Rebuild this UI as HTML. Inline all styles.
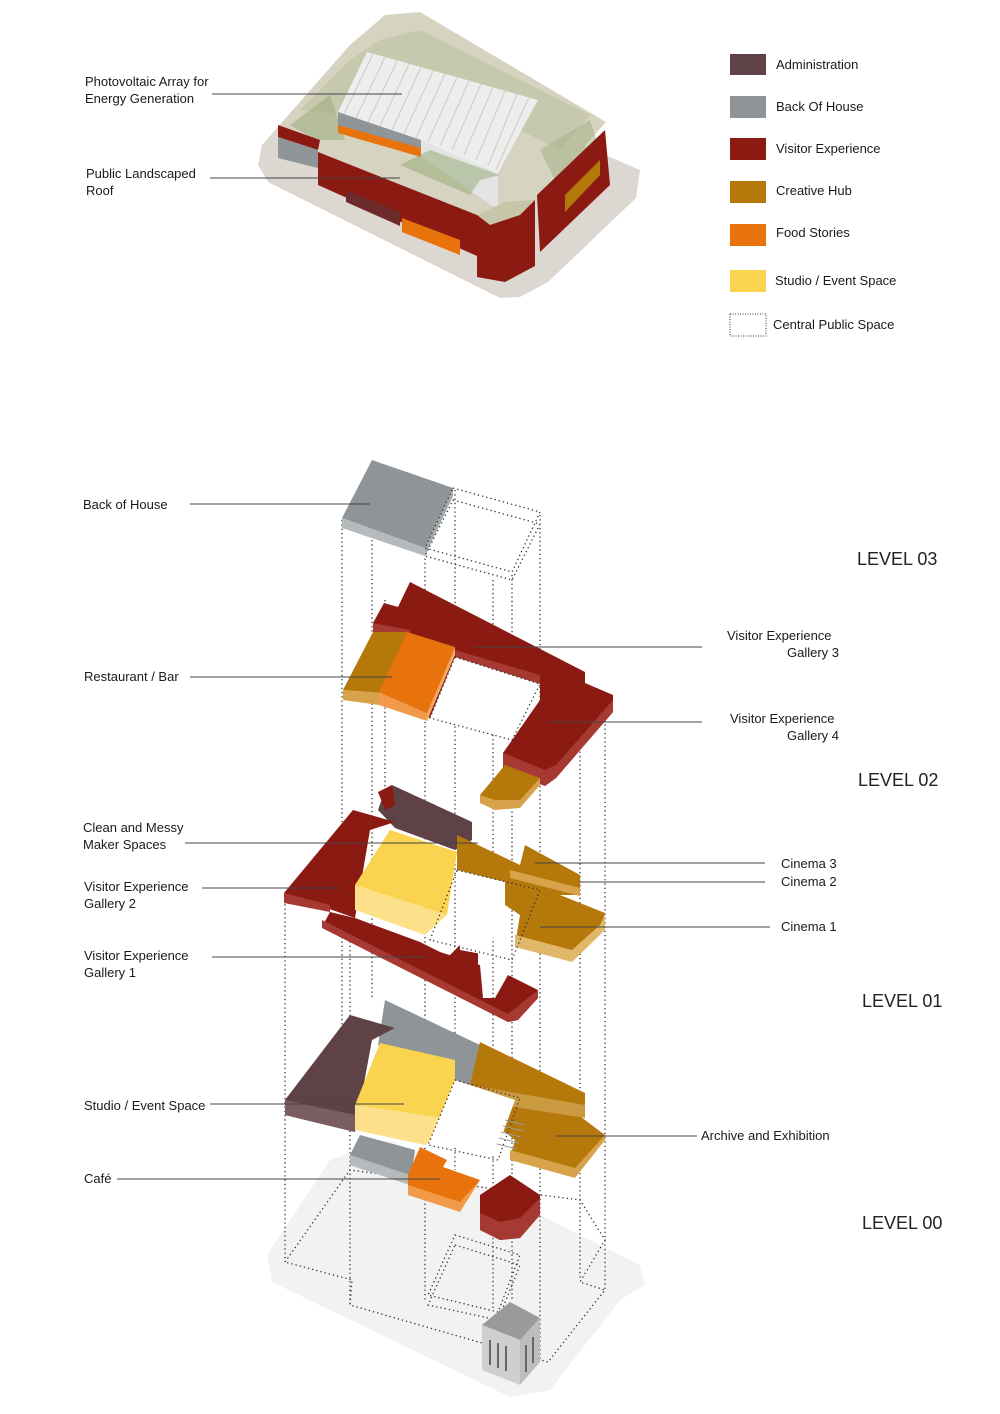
<!DOCTYPE html>
<html><head><meta charset="utf-8"><style>
html,body{margin:0;padding:0;background:#fff}
svg{display:block}
text{font-family:"Liberation Sans",sans-serif;font-size:13px;fill:#1a1a1a}
.lv{font-size:18px;fill:#222}
.ld{stroke:#444;stroke-width:1;fill:none}
.dt{stroke:#333;stroke-width:1.3;stroke-dasharray:1.3 3;fill:none}
</style></head><body>
<svg width="1000" height="1414" viewBox="0 0 1000 1414" xmlns="http://www.w3.org/2000/svg">
<!-- TOP BUILDING -->
<polygon points="262,145 350,45 640,170 636,198 548,282 520,297 500,298 268,182 258,165" fill="#ddd7d2"/>
<polygon points="280,125 350,45 385,15 420,12 606,122 537,200 477,215 320,152" fill="#d6d4c0"/>
<polygon points="300,110 350,60 380,40 420,30 520,80 590,115 560,150 520,130" fill="#b5bd98" opacity=".45"/>
<polygon points="290,125 330,95 345,140 315,140" fill="#9fae80" opacity=".6"/>
<polygon points="540,150 590,120 600,150 560,190" fill="#9fae80" opacity=".5"/>
<polygon points="367,52 538,100 498,173 338,112" fill="#ededeb"/>
<g stroke="#cfcfcf" stroke-width="1.2">
<line x1="373" y1="54" x2="344" y2="114"/><line x1="385" y1="57" x2="356" y2="118"/><line x1="397" y1="61" x2="368" y2="122"/><line x1="409" y1="64" x2="380" y2="126"/><line x1="421" y1="67" x2="392" y2="130"/><line x1="433" y1="71" x2="404" y2="134"/><line x1="445" y1="74" x2="416" y2="138"/><line x1="457" y1="77" x2="428" y2="142"/><line x1="469" y1="81" x2="440" y2="146"/><line x1="481" y1="84" x2="452" y2="150"/><line x1="493" y1="87" x2="464" y2="155"/><line x1="505" y1="91" x2="476" y2="160"/><line x1="517" y1="94" x2="488" y2="166"/><line x1="529" y1="97" x2="496" y2="170"/></g>
<polygon points="338,112 421,140 421,157 338,130" fill="#8f9598"/>
<polygon points="338,125 421,148 421,157 338,133" fill="#e8720c"/>
<polygon points="421,140 498,173 498,210 421,157" fill="#e4e4e2"/>
<polygon points="278,125 320,140 318,150 278,137" fill="#8b1a13"/>
<polygon points="278,137 318,150 318,168 278,158" fill="#8f9598"/>
<polygon points="318,152 477,215 477,256 318,185" fill="#8b1a13"/>
<polygon points="346,190 400,212 400,226 346,202" fill="#6d2a2a"/>
<polygon points="402,218 460,240 460,255 402,232" fill="#e8720c"/>
<polygon points="477,215 535,200 535,266 505,282 477,277" fill="#8b1a13"/>
<polygon points="477,215 505,202 535,200 520,215 490,225" fill="#c7c6a9"/>
<polygon points="537,195 605,130 610,185 540,252" fill="#8b1a13"/>
<polygon points="565,195 600,160 600,175 565,212" fill="#b5790b"/>
<polygon points="400,165 470,195 480,180 500,175 430,150" fill="#8fa872" opacity=".5"/>
<!-- legend -->
<rect x="730" y="54" width="36" height="21" fill="#5f4245"/>
<rect x="730" y="96" width="36" height="22" fill="#8e9497"/>
<rect x="730" y="138" width="36" height="22" fill="#8b1a13"/>
<rect x="730" y="181" width="36" height="22" fill="#b5790b"/>
<rect x="730" y="224" width="36" height="22" fill="#e8720c"/>
<rect x="730" y="270" width="36" height="22" fill="#fbd44f"/>
<rect x="730" y="314" width="36" height="22" fill="#fff" stroke="#333" stroke-dasharray="1 1.5"/>
<text x="776" y="69">Administration</text>
<text x="776" y="111">Back Of House</text>
<text x="776" y="153">Visitor Experience</text>
<text x="776" y="195">Creative Hub</text>
<text x="776" y="237">Food Stories</text>
<text x="775" y="285">Studio / Event Space</text>
<text x="773" y="329">Central Public Space</text>
<text x="85" y="86">Photovoltaic Array for</text><text x="85" y="103">Energy Generation</text>
<text x="86" y="178">Public Landscaped</text><text x="86" y="195">Roof</text>
<line class="ld" x1="212" y1="94" x2="402" y2="94"/>
<line class="ld" x1="210" y1="178" x2="400" y2="178"/>

<!-- ground plate -->
<polygon points="267,1255 330,1160 390,1140 640,1265 645,1285 620,1300 550,1390 510,1397 272,1282" fill="#f2f2f2"/>
<polygon class="dt" points="285,1262 350,1170 580,1200 605,1240 580,1282 605,1290 548,1362 350,1305 352,1280"/>
<!-- vertical dotted lines -->
<g class="dt">
<line x1="342" y1="520" x2="342" y2="1090"/><line x1="372" y1="540" x2="372" y2="1000"/>
<line x1="425" y1="550" x2="425" y2="1300"/><line x1="455" y1="490" x2="455" y2="1170"/>
<line x1="512" y1="575" x2="512" y2="1300"/><line x1="540" y1="515" x2="540" y2="1360"/>
<line x1="285" y1="900" x2="285" y2="1262"/><line x1="350" y1="920" x2="350" y2="1305"/>
<line x1="580" y1="700" x2="580" y2="1280"/><line x1="605" y1="720" x2="605" y2="1290"/>
<line x1="385" y1="600" x2="385" y2="790"/><line x1="493" y1="580" x2="493" y2="1310"/>
</g>
<!-- LEVEL 03 -->
<polygon points="372,460 453,488 425,548 342,518" fill="#8e9497"/>
<polygon points="342,518 425,548 425,556 342,528" fill="#b5babc"/>
<polygon points="425,548 453,488 453,496 425,556" fill="#a4a9ab"/>
<polygon class="dt" points="453,488 540,512 512,572 425,548"/>
<polygon class="dt" points="453,500 540,524 512,580 425,556"/>
<!-- LEVEL 02 -->
<polygon points="373,623 384,603 398,607 410,582 585,672 585,683 613,695 613,712 556,778 545,786 503,770 503,753 540,700 540,684 455,657 430,718 378,700" fill="#8b1a13"/>
<polygon points="503,753 545,770 556,765 613,700 613,712 556,778 545,786 503,770" fill="#a63a33"/>
<polygon points="455,650 540,675 540,684 455,660" fill="#a63a33"/>
<polygon points="373,623 410,630 410,637 373,632" fill="#a63a33"/>
<polygon points="455,657 540,684 512,740 430,718" fill="#fff"/>
<polygon class="dt" points="455,657 540,684 512,740 430,718"/>
<polygon points="373,632 407,632 379,693 343,690" fill="#b5790b"/>
<polygon points="343,690 379,693 379,705 343,700" fill="#d7a24a"/>
<polygon points="407,632 455,647 427,713 379,692" fill="#e8720c"/>
<polygon points="379,692 427,713 427,721 379,705" fill="#f19a4a"/>
<polygon points="427,713 455,647 455,655 427,721" fill="#f5a860"/>
<polygon points="480,795 505,765 540,778 520,805 495,808 480,800" fill="#b5790b"/>
<polygon points="480,795 495,800 520,800 540,778 540,785 520,808 495,810 480,803" fill="#d7a24a"/>
<!-- LEVEL 01 -->
<polygon points="378,810 385,790 392,785 472,822 472,840 455,850 395,828" fill="#5f4245"/>
<polygon points="378,792 392,785 395,805 385,810" fill="#8b1a13"/>
<polygon points="284,893 353,810 395,822 370,830 355,918 330,912 322,927 508,1022 518,1020 538,998 538,990 508,975 495,998 483,998 480,965 440,952 420,942 355,918" fill="#8b1a13"/>
<polygon points="284,893 330,905 330,912 284,903" fill="#a63a33"/>
<polygon points="322,920 508,1014 538,990 538,998 518,1020 508,1022 322,928" fill="#a63a33"/>
<polygon points="445,960 460,945 478,952 478,975 460,982 445,975" fill="#8b1a13"/>
<polygon points="390,830 457,852 447,915 355,885" fill="#fbd44f"/>
<polygon points="355,885 447,915 425,935 355,910" fill="#fde08a"/>
<polygon points="457,835 520,865 525,845 580,875 580,895 560,895 605,913 600,930 572,960 515,945 520,915 505,905 505,882 457,870" fill="#b5790b"/>
<polygon points="515,935 572,950 600,925 605,915 605,930 572,962 515,947" fill="#e0b86a"/>
<polygon points="510,870 580,888 580,896 510,878" fill="#d7a24a"/>
<polygon points="457,870 505,882 505,905 487,955 460,950" fill="#fff"/>
<polygon class="dt" points="457,870 540,890 512,960 430,940"/>
<!-- LEVEL 00 -->
<polygon points="385,1000 480,1045 470,1090 455,1080 378,1045" fill="#8e9497"/>
<polygon points="285,1100 350,1015 395,1028 372,1040 355,1132 285,1115" fill="#5f4245"/>
<polygon points="285,1100 355,1115 355,1132 285,1115" fill="#7a5d60"/>
<polygon points="380,1043 455,1060 455,1120 355,1105" fill="#fbd44f"/>
<polygon points="355,1105 455,1120 425,1145 355,1130" fill="#fde08a"/>
<polygon points="470,1085 480,1042 585,1093 585,1118 565,1105 605,1135 575,1175 510,1158 515,1140 470,1105" fill="#b5790b"/>
<polygon points="470,1085 585,1105 585,1118 470,1100" fill="#c99a40"/>
<polygon points="510,1150 575,1168 605,1135 605,1140 575,1178 510,1160" fill="#d7a24a"/>
<polygon points="455,1080 515,1100 495,1155 430,1140" fill="#fff"/>
<polygon class="dt" points="455,1080 520,1098 498,1160 428,1145"/>
<g stroke="#999" stroke-width="1"><line x1="505" y1="1120" x2="525" y2="1125"/><line x1="503" y1="1126" x2="523" y2="1131"/><line x1="501" y1="1132" x2="521" y2="1137"/><line x1="499" y1="1138" x2="519" y2="1143"/><line x1="497" y1="1144" x2="517" y2="1149"/></g>
<polygon points="350,1155 360,1135 415,1150 410,1185 350,1165" fill="#8e9497"/>
<polygon points="350,1155 410,1175 410,1185 350,1165" fill="#b5babc"/>
<polygon points="408,1175 420,1147 447,1160 443,1167 480,1180 460,1210 408,1195" fill="#e8720c"/>
<polygon points="408,1185 460,1202 480,1180 460,1212 408,1195" fill="#f19a4a"/>
<polygon points="480,1195 510,1175 540,1195 540,1215 520,1238 500,1240 480,1230" fill="#8b1a13"/>
<polygon points="480,1213 500,1222 520,1218 540,1198 540,1215 520,1238 500,1240 480,1230" fill="#a63a33"/>
<polygon class="dt" points="455,1235 520,1255 498,1312 428,1295"/>
<polygon class="dt" points="455,1245 520,1265 498,1320 428,1305"/>
<!-- old corner building -->
<polygon points="482,1325 510,1302 540,1318 520,1340" fill="#9a9a9a"/>
<polygon points="482,1325 520,1340 520,1385 482,1370" fill="#cfcfcf"/>
<polygon points="520,1340 540,1318 540,1362 520,1385" fill="#bdbdbd"/>
<g stroke="#666" stroke-width="2"><line x1="490" y1="1340" x2="490" y2="1365"/><line x1="498" y1="1343" x2="498" y2="1368"/><line x1="506" y1="1346" x2="506" y2="1371"/><line x1="526" y1="1345" x2="526" y2="1372"/><line x1="533" y1="1337" x2="533" y2="1363"/></g>

<!-- labels -->
<g class="ld">
<line x1="190" y1="504" x2="370" y2="504"/>
<line x1="190" y1="677" x2="392" y2="677"/>
<line x1="475" y1="647" x2="702" y2="647"/>
<line x1="550" y1="722" x2="702" y2="722"/>
<line x1="185" y1="843" x2="478" y2="843"/>
<line x1="202" y1="888" x2="340" y2="888"/>
<line x1="212" y1="957" x2="424" y2="957"/>
<line x1="535" y1="863" x2="765" y2="863"/>
<line x1="580" y1="882" x2="765" y2="882"/>
<line x1="540" y1="927" x2="770" y2="927"/>
<line x1="210" y1="1104" x2="404" y2="1104"/>
<line x1="117" y1="1179" x2="440" y2="1179"/>
<line x1="556" y1="1136" x2="697" y2="1136"/>
</g>
<text x="83" y="509">Back of House</text>
<text x="84" y="681">Restaurant / Bar</text>
<text x="727" y="640">Visitor Experience</text><text x="787" y="657">Gallery 3</text>
<text x="730" y="723">Visitor Experience</text><text x="787" y="740">Gallery 4</text>
<text x="83" y="832">Clean and Messy</text><text x="83" y="849">Maker Spaces</text>
<text x="84" y="891">Visitor Experience</text><text x="84" y="908">Gallery 2</text>
<text x="84" y="960">Visitor Experience</text><text x="84" y="977">Gallery 1</text>
<text x="781" y="868">Cinema 3</text>
<text x="781" y="886">Cinema 2</text>
<text x="781" y="931">Cinema 1</text>
<text x="84" y="1110">Studio / Event Space</text>
<text x="84" y="1183">Café</text>
<text x="701" y="1140">Archive and Exhibition</text>
<text class="lv" x="857" y="565">LEVEL 03</text>
<text class="lv" x="858" y="786">LEVEL 02</text>
<text class="lv" x="862" y="1007">LEVEL 01</text>
<text class="lv" x="862" y="1229">LEVEL 00</text>
</svg>
</body></html>
